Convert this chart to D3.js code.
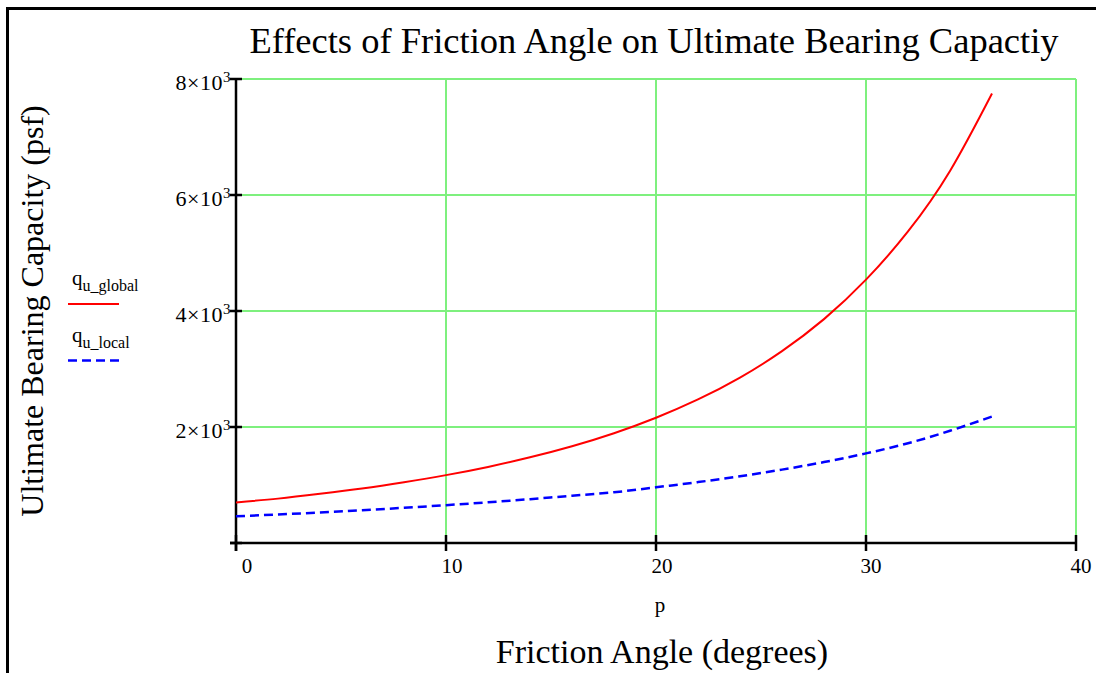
<!DOCTYPE html>
<html><head><meta charset="utf-8">
<script src="https://cdn.jsdelivr.net/npm/d3@7"></script>
<style>
html,body{margin:0;padding:0;background:#fff;}
svg{display:block;font-family:"Liberation Serif","Times New Roman",serif;}
</style></head>
<body><svg id="chart" width="1096" height="673"></svg>
<script>
const frictionAngle = [0,2,4,6,8,10,12,14,16,18,20,22,24,26,28,30,32,34,36];
const quGlobal = [700,765,848,940,1048,1170,1312,1477,1668,1893,2160,2475,2852,3308,3860,4540,5372,6415,7750];
const quLocal  = [460,492,527,565,607,652,702,756,815,875,960,1050,1150,1265,1395,1545,1720,1935,2180];
const xTicks = [0,10,20,30,40];
const xTickLabels = ["0","10","20","30","40"];
const yTicks = [2000,4000,6000,8000];
const yTickLabels = ["2×10","4×10","6×10","8×10"];
const yTickExp = "3";
const titleText = "Effects of Friction Angle on Ultimate Bearing Capactiy";
const xTitle = "Friction Angle (degrees)";
const xVarName = "p";
const yTitle = "Ultimate Bearing Capacity (psf)";
const seriesNames = [{base:"q",sub:"u_global"},{base:"q",sub:"u_local"}];

const svg = d3.select("#chart");
const x = d3.scaleLinear().domain([0,40]).range([236,1076]);
const y = d3.scaleLinear().domain([0,8000]).range([543,79]);

// frame
svg.append("line").attr("x1",6).attr("x2",1096).attr("y1",8.5).attr("y2",8.5).attr("stroke","#000").attr("stroke-width",3);
svg.append("line").attr("x1",7.5).attr("x2",7.5).attr("y1",7).attr("y2",673).attr("stroke","#000").attr("stroke-width",3);

// grid
const grid = svg.append("g").attr("stroke","#7ef07e").attr("stroke-width",2);
xTicks.filter(d=>d>0).forEach(d=>grid.append("line").attr("x1",x(d)).attr("x2",x(d)).attr("y1",y(8000)).attr("y2",y(0)));
yTicks.forEach(d=>grid.append("line").attr("x1",x(0)).attr("x2",x(40)).attr("y1",y(d)).attr("y2",y(d)));

// axes
const ax = svg.append("g").attr("stroke","#000").attr("stroke-width",2.5);
ax.append("line").attr("x1",x(0)-6).attr("x2",x(40)).attr("y1",y(0)).attr("y2",y(0));
ax.append("line").attr("x1",x(0)).attr("x2",x(0)).attr("y1",y(8000)).attr("y2",y(0)+8);
xTicks.forEach(d=>ax.append("line").attr("x1",x(d)).attr("x2",x(d)).attr("y1",y(0)-8).attr("y2",y(0)+8));
[0].concat(yTicks).forEach(d=>ax.append("line").attr("x1",x(0)-6).attr("x2",x(0)+6).attr("y1",y(d)).attr("y2",y(d)));

// x tick labels
const xOff = {0:11,10:6,20:6,30:5,40:5};
xTicks.forEach((d,i)=>svg.append("text").attr("x",x(d)+xOff[d]).attr("y",573).attr("text-anchor","middle")
  .attr("font-size",21).text(xTickLabels[i]));

// y tick labels
yTicks.forEach((d,i)=>{
  svg.append("text").attr("x",223).attr("y",y(d)+11).attr("text-anchor","end").attr("font-size",22)
    .attr("letter-spacing","0.5px").text(yTickLabels[i]);
  svg.append("text").attr("x",223).attr("y",y(d)+3).attr("font-size",15).text(yTickExp);
});

// titles
svg.append("text").attr("x",654).attr("y",53).attr("text-anchor","middle").attr("font-size",36.5).text(titleText);
svg.append("text").attr("x",662).attr("y",663).attr("text-anchor","middle").attr("font-size",34).text(xTitle);
svg.append("text").attr("x",660).attr("y",612).attr("text-anchor","middle").attr("font-size",21).text(xVarName);
svg.append("text").attr("transform","translate(43,311) rotate(-90)").attr("text-anchor","middle").attr("font-size",32).text(yTitle);

// series
const line = d3.line().x((d,i)=>x(frictionAngle[i])).y(d=>y(d)).curve(d3.curveNatural);
svg.append("path").datum(quGlobal).attr("d",line).attr("fill","none").attr("stroke","#ff0000").attr("stroke-width",2);
svg.append("path").datum(quLocal).attr("d",line).attr("fill","none").attr("stroke","#0000ff").attr("stroke-width",2.5).attr("stroke-dasharray","9,5");

// legend
const leg = [{yText:285,yLine:304,color:"#ff0000",dash:null,w:2},{yText:342,yLine:360.5,color:"#0000ff",dash:"9,5",w:2.5}];
leg.forEach((l,i)=>{
  const t = svg.append("text").attr("x",72).attr("y",l.yText).attr("font-size",21);
  t.append("tspan").text(seriesNames[i].base);
  t.append("tspan").attr("font-size",16).attr("dy",6).text(seriesNames[i].sub);
  svg.append("line").attr("x1",68).attr("x2",119).attr("y1",l.yLine).attr("y2",l.yLine)
    .attr("stroke",l.color).attr("stroke-width",l.w).attr("stroke-dasharray",l.dash);
});
</script></body></html>
